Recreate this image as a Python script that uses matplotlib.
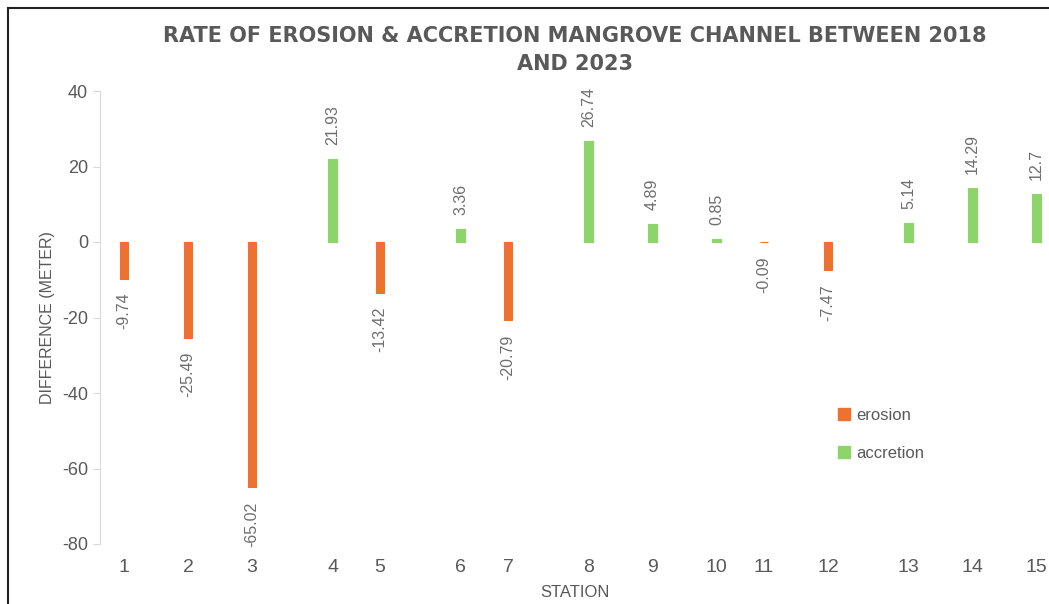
import matplotlib
matplotlib.use("Agg")
import matplotlib.pyplot as plt
from matplotlib.lines import Line2D
import numpy as np

# данные по станциям
stations = list(range(1, 16))
erosion = [-9.74, -25.49, -65.02, None, -13.42, None, -20.79, None, None, None, -0.09, -7.47, None, None, None]
accretion = [None, None, None, 21.93, None, 3.36, None, 26.74, 4.89, 0.85, None, None, 5.14, 14.29, 12.7]

title = "RATE OF EROSION & ACCRETION MANGROVE CHANNEL BETWEEN 2018\nAND 2023"
ORANGE = "#ED7131"
GREEN = "#8DD46A"
GRAY = "#595959"

plt.rcParams['font.family'] = ['Liberation Sans', 'DejaVu Sans']
plt.rcParams['axes.unicode_minus'] = False

fig = plt.figure(figsize=(10.49, 6.04), dpi=100)
ax = fig.add_axes([100 / 1049, 60 / 604, 949 / 1049, 453 / 604])

w = 0.13
off = 0.129
tick_pos = []
for i, n in enumerate(stations):
    e, a = erosion[i], accretion[i]
    if e is not None:
        ax.bar(n - off, e, width=w, color=ORANGE, edgecolor=ORANGE, linewidth=0.8)
        ax.annotate(f"{e:g}", (n - off, e), xytext=(0, -10), textcoords="offset points",
                    rotation=90, ha="center", va="top", fontsize=11.5, color="#6E6E6E")
        tick_pos.append(n - off)
    else:
        ax.bar(n + off, a, width=w, color=GREEN, edgecolor=GREEN, linewidth=0.8)
        ax.annotate(f"{a:g}", (n + off, a), xytext=(0, 10), textcoords="offset points",
                    rotation=90, ha="center", va="bottom", fontsize=11.5, color="#6E6E6E")
        tick_pos.append(n + off)

ax.set_xlim(0.496, 15.324)
ax.set_ylim(-80, 40)
ax.set_yticks(np.arange(-80, 41, 20))
ax.set_xticks(tick_pos)
ax.set_xticklabels([str(s) for s in stations])

for s in ["top", "right", "bottom"]:
    ax.spines[s].set_visible(False)
ax.spines["left"].set_color("#D9D9D9")
ax.tick_params(axis="y", colors="#D9D9D9", labelcolor=GRAY, labelsize=13, length=5)
ax.tick_params(axis="x", length=0, labelcolor=GRAY, labelsize=14, pad=11)

ax.set_ylabel("DIFFERENCE (METER)", fontsize=11.5, color=GRAY, labelpad=5)
ax.set_xlabel("STATION", fontsize=12, color=GRAY, labelpad=6)

fig.text(575 / 1049, 1 - 26 / 604, title, ha="center", va="top", fontsize=15,
         fontweight="bold", color=GRAY, linespacing=1.5, family=["DejaVu Sans"])

handles = [Line2D([], [], marker="s", linestyle="none", color=ORANGE, markersize=8, label="erosion"),
           Line2D([], [], marker="s", linestyle="none", color=GREEN, markersize=8, label="accretion")]
ax.legend(handles=handles, loc="upper left", bbox_to_anchor=(721 / 949, (544 - 393) / 453),
          frameon=False, labelcolor=GRAY, handletextpad=0.2, labelspacing=1.35,
          handlelength=1.0, prop={"size": 12})

# рамка скриншота
fig.add_artist(Line2D([8 / 1049, 8 / 1049], [0, 1 - 8 / 604], color="#222222", lw=1.5))
fig.add_artist(Line2D([8 / 1049, 1], [1 - 8 / 604, 1 - 8 / 604], color="#222222", lw=1.5))

fig.savefig("out.png", dpi=100)
